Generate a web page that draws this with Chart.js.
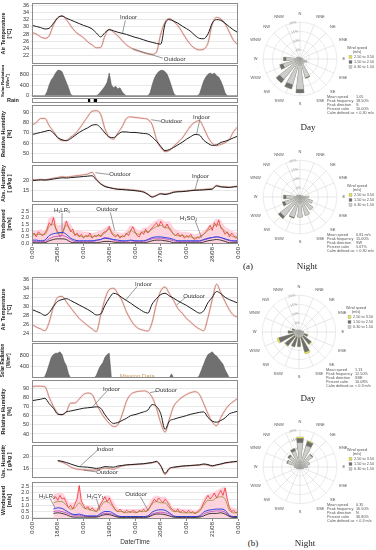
<!DOCTYPE html>
<html>
<head>
<meta charset="utf-8">
<script src="https://cdn.jsdelivr.net/npm/chart.js@4.4.1/dist/chart.umd.min.js"></script>
<style>
  body { margin: 0; width: 376px; height: 550px; background: #fff; position: relative; overflow: hidden; font-family: 'Liberation Sans', Arial, sans-serif; }
  canvas { position: absolute; }
  .lbl { position: absolute; transform: translate(-50%, -50%); white-space: nowrap; }
  .cap { font-family: 'Liberation Serif', 'DejaVu Serif', serif; font-size: 9px; color: #222; }
  .rain { font-size: 5.5px; font-weight: bold; color: #222; }
</style>
</head>
<body>
<canvas id="tempA"  width="244" height="61" style="left:0;top:3px"></canvas>
<canvas id="solarA" width="244" height="32" style="left:0;top:65px"></canvas>
<canvas id="rainA"  width="244" height="5"  style="left:0;top:98px"></canvas>
<canvas id="rhA"    width="244" height="58" style="left:0;top:105px"></canvas>
<canvas id="ahA"    width="244" height="37" style="left:0;top:165px"></canvas>
<canvas id="windA"  width="244" height="58" style="left:0;top:204px"></canvas>

<canvas id="tempB"  width="244" height="65" style="left:0;top:277px"></canvas>
<canvas id="solarB" width="244" height="35" style="left:0;top:343px"></canvas>
<canvas id="rhB"    width="244" height="63" style="left:0;top:380px"></canvas>
<canvas id="ahB"    width="244" height="33" style="left:0;top:445px"></canvas>
<canvas id="windB"  width="244" height="64" style="left:0;top:482px"></canvas>

<canvas id="roseDayA"   width="127" height="120" style="left:249px;top:9px"></canvas>
<canvas id="roseNightA" width="127" height="120" style="left:249px;top:147px"></canvas>
<canvas id="roseDayB"   width="127" height="120" style="left:248px;top:282px"></canvas>
<canvas id="roseNightB" width="127" height="120" style="left:249px;top:417px"></canvas>

<div class="lbl rain" style="left:13px;top:100px">Rain</div>
<div class="lbl cap" style="left:308px;top:127px">Day</div>
<div class="lbl cap" style="left:248px;top:266px">(a)</div>
<div class="lbl cap" style="left:307px;top:266px">Night</div>
<div class="lbl cap" style="left:308px;top:398px">Day</div>
<div class="lbl cap" style="left:253px;top:543px">(b)</div>
<div class="lbl cap" style="left:305px;top:543px">Night</div>

<script>
Chart.defaults.font.family = "'Liberation Sans', Arial, sans-serif";
Chart.defaults.font.size = 6;
Chart.defaults.color = '#333';
Chart.defaults.animation = false;
Chart.defaults.plugins.legend.display = false;
Chart.defaults.plugins.tooltip.enabled = false;

// === TIME GRID (hours from first midnight) ===
const H2 = Array.from({ length: 49 }, (_, i) => i * 2);
const H1 = Array.from({ length: 97 }, (_, i) => i);
const xTicks = [0, 12, 24, 36, 48, 60, 72, 84, 96];
const datesA = ['25/08', '26/08', '27/08', '28/08'];
const datesB = ['18/08', '19/08', '20/08', '21/08'];

// === (a) AIR TEMPERATURE, 2-hourly ===
const tempInA = [30.4, 30.1, 29.8, 29.4, 29.6, 31.0, 32.5, 33.0, 32.4, 31.9,
                 31.4, 30.9, 30.4, 30.0, 29.4, 28.3, 27.2, 28.4, 29.2, 28.9,
                 28.5, 28.2, 27.9, 27.5, 27.1, 26.8, 26.4, 26.0, 25.7, 25.4,
                 25.2, 30.8, 32.0, 31.6, 31.0, 30.2, 29.5, 28.7, 27.6, 26.8,
                 26.7, 28.0, 31.0, 32.0, 31.8, 31.0, 30.0, 29.1, 28.4];
const tempOutA = [28.4, 28.0, 27.2, 26.8, 27.5, 30.5, 32.5, 33.0, 32.0, 30.3,
                  28.8, 27.8, 27.0, 25.8, 25.0, 24.2, 24.3, 27.5, 29.3, 28.5,
                  27.5, 26.2, 25.0, 24.2, 23.6, 23.2, 22.8, 22.5, 22.4, 23.0,
                  28.0, 31.3, 32.3, 31.5, 30.3, 28.5, 26.6, 25.0, 24.0, 23.6,
                  23.8, 25.5, 30.8, 32.6, 32.2, 30.8, 28.5, 26.2, 25.0];

// === (a) SOLAR RADIATION, hourly ===
const solarA = [0, 0, 0, 0, 0, 0, 0, 150, 400, 600,
                700, 850, 950, 950, 900, 700, 500, 300, 50, 0,
                0, 0, 0, 0, 0, 0, 0, 0, 0, 0,
                0, 50, 150, 250, 350, 500, 850, 400, 300, 350,
                250, 300, 150, 50, 0, 0, 0, 0, 0, 0,
                0, 0, 0, 0, 0, 100, 400, 650, 800, 900,
                950, 950, 900, 800, 600, 350, 100, 0, 0, 0,
                0, 0, 0, 0, 0, 0, 0, 0, 50, 300,
                550, 700, 800, 850, 800, 850, 750, 700, 550, 350,
                100, 0, 0, 0, 0, 0, 0];

// === (a) RAIN EVENTS ===
const rainHoursA = [26.6, 29.3, 29.8];
const rainA = [1, 1, 1];

// === (a) RELATIVE HUMIDITY, 2-hourly ===
const rhOutA = [77.7, 80, 84, 84, 77, 71.5, 65.4, 62.5, 62.8, 66,
                69, 74, 80, 86, 91, 91.5, 88, 74, 66, 64,
                70, 76, 84, 85.5, 85, 84.5, 84, 83, 78, 64,
                56, 52, 53, 57, 61, 65, 71, 77, 80.5, 82,
                75, 66, 60, 57.7, 59, 60.5, 64, 71.5, 76];
const rhInA = [68.5, 69.5, 70.5, 71.5, 72.5, 70, 65.5, 63.5, 62.5, 64.5,
               67.5, 70.5, 73, 75, 77.5, 78, 75, 70, 66, 65.5,
               68.5, 71, 71, 70.5, 70.5, 70, 69.5, 69, 66, 62,
               57, 53, 54, 56, 58.5, 61, 64, 66.5, 68.5, 68,
               63, 60, 58, 58.5, 60.8, 62, 63.5, 65.4, 67];

// === (a) ABSOLUTE HUMIDITY, 2-hourly ===
const ahOutA = [20.5, 20.6, 20.8, 20.6, 21.0, 21.4, 21.8, 22.2, 22.0, 22.3,
                22.6, 22.9, 23.2, 23.6, 24.5, 21.0, 18.6, 17.2, 16.5, 16.0,
                15.7, 15.6, 15.5, 15.3, 15.1, 14.8, 14.3, 13.0, 11.6, 12.4,
                13.3, 13.0, 13.4, 14.2, 14.4, 14.5, 14.7, 15.0, 15.2, 15.3,
                15.5, 15.7, 16.0, 17.6, 17.0, 16.9, 16.7, 17.0, 17.2];
const ahInA = [20.2, 20.3, 20.5, 20.4, 20.6, 21.0, 21.3, 21.6, 21.5, 21.7,
               21.9, 22.1, 22.3, 22.5, 22.7, 20.5, 18.4, 17.0, 16.4, 15.9,
               15.5, 15.4, 15.2, 15.0, 14.8, 14.5, 14.0, 12.8, 11.4, 12.2,
               13.1, 12.8, 13.2, 13.9, 14.2, 14.3, 14.5, 14.8, 15.0, 15.1,
               15.2, 15.4, 15.6, 17.3, 16.8, 16.6, 16.5, 16.8, 17.0];

// === (a) WINDSPEED ===
const windOutA = [0.6, 0.8, 0.5, 0.9, 0.7, 0.6, 0.8, 1.1, 1.6, 1.4,
                  2.0, 1.2, 0.9, 0.5, 0.7, 1.2, 1.7, 1.3, 0.9, 1.1,
                  0.6, 0.8, 0.5, 0.7, 0.4, 0.6, 0.5, 0.8, 0.4, 0.6,
                  0.5, 0.7, 0.5, 0.8, 0.9, 1.0, 1.3, 0.8, 0.6, 0.5,
                  0.7, 0.4, 0.6, 0.5, 0.8, 0.6, 1.0, 1.3, 0.9, 0.6,
                  0.5, 0.9, 0.7, 1.1, 0.8, 1.0, 1.2, 1.4, 1.6, 1.3,
                  1.7, 1.4, 1.2, 1.5, 1.1, 0.9, 0.7, 0.6, 0.8, 0.5,
                  0.7, 0.4, 0.6, 0.5, 0.7, 0.4, 0.3, 0.5, 0.4, 0.6,
                  0.7, 0.9, 1.1, 1.4, 1.0, 1.6, 1.3, 1.8, 1.2, 1.0,
                  0.7, 0.9, 0.5, 0.8, 0.6, 0.4, 0.5];
const windPeakA = [1.0, 1.0, 1.1, 1.0, 2.0, 2.1, 1.4, 1.5, 1.8, 1.5,
                   1.0, 1.0, 0.9, 0.9, 0.8, 0.9, 1.0, 1.2, 1.4, 1.0,
                   0.9, 0.8, 1.0, 1.4, 1.2, 1.0, 1.2, 1.3, 1.6, 1.8,
                   1.9, 1.7, 1.7, 1.2, 1.0, 0.9, 0.9, 0.8, 0.7, 0.8,
                   1.0, 1.3, 1.6, 1.9, 1.8, 1.3, 1.1, 0.9, 0.8];
const windOliveA = [0.6, 0.7, 0.7, 0.7, 1.3, 1.5, 0.8, 0.8, 1.4, 1.0,
                    0.7, 0.6, 0.5, 0.6, 0.5, 0.6, 0.6, 0.8, 1.1, 0.7,
                    0.6, 0.5, 0.7, 1.0, 0.8, 0.7, 0.9, 0.9, 1.1, 1.3,
                    1.4, 1.2, 1.2, 0.7, 0.6, 0.6, 0.5, 0.5, 0.4, 0.5,
                    0.7, 1.0, 1.2, 1.5, 1.3, 0.9, 0.7, 0.5, 0.5];
const windBlueA = [0.25, 0.25, 0.2, 0.25, 0.6, 0.75, 0.8, 0.85, 0.7, 0.4,
                   0.25, 0.2, 0.2, 0.2, 0.2, 0.25, 0.3, 0.4, 0.35, 0.3,
                   0.25, 0.2, 0.2, 0.25, 0.2, 0.2, 0.2, 0.3, 0.45, 0.5,
                   0.5, 0.45, 0.4, 0.3, 0.2, 0.2, 0.2, 0.2, 0.2, 0.2,
                   0.3, 0.4, 0.45, 0.5, 0.45, 0.35, 0.25, 0.2, 0.2];
const windPurpleA = [0.15, 0.15, 0.15, 0.15, 0.35, 0.5, 0.55, 0.6, 0.5, 0.3,
                     0.15, 0.15, 0.15, 0.15, 0.15, 0.2, 0.3, 0.45, 0.4, 0.25,
                     0.15, 0.15, 0.15, 0.2, 0.15, 0.15, 0.15, 0.25, 0.35, 0.4,
                     0.4, 0.35, 0.3, 0.2, 0.15, 0.15, 0.15, 0.15, 0.15, 0.15,
                     0.25, 0.35, 0.45, 0.5, 0.45, 0.3, 0.2, 0.15, 0.15];
const windBlackA = [0.05, 0.05, 0.05, 0.05, 0.2, 0.3, 0.35, 0.35, 0.3, 0.1,
                    0.05, 0.05, 0.05, 0.05, 0.05, 0.05, 0.1, 0.15, 0.15, 0.1,
                    0.05, 0.05, 0.05, 0.05, 0.05, 0.05, 0.05, 0.1, 0.2, 0.25,
                    0.25, 0.2, 0.15, 0.05, 0.05, 0.05, 0.05, 0.05, 0.05, 0.05,
                    0.1, 0.2, 0.25, 0.3, 0.25, 0.15, 0.05, 0.05, 0.05];

// === (b) AIR TEMPERATURE, 2-hourly ===
const tempInB = [29.3, 28.9, 28.5, 28.0, 28.6, 30.0, 31.1, 31.5, 31.7, 31.3,
                 30.8, 30.3, 29.8, 29.3, 28.7, 28.1, 28.3, 30.2, 31.8, 32.9,
                 32.6, 31.9, 31.3, 30.7, 30.0, 29.4, 28.8, 28.5, 30.5, 31.7,
                 32.6, 32.9, 32.3, 31.8, 31.2, 30.7, 30.2, 29.6, 29.0, 28.5,
                 29.0, 30.8, 32.0, 33.3, 32.8, 32.0, 31.5, 31.1, 30.7];
const tempOutB = [26.0, 25.4, 25.0, 24.6, 26.5, 29.9, 32.0, 32.2, 31.0, 29.7,
                  28.5, 27.3, 26.5, 25.7, 25.0, 24.4, 28.0, 31.6, 33.7, 34.0,
                  32.8, 31.2, 28.8, 27.0, 25.7, 25.0, 24.7, 24.5, 26.5, 30.6,
                  33.4, 34.3, 32.8, 31.3, 29.5, 28.5, 27.3, 26.5, 25.6, 25.0,
                  24.6, 27.5, 31.5, 34.9, 33.0, 31.0, 29.2, 28.0, 27.6];

// === (b) SOLAR RADIATION, hourly (gap = missing data) ===
const solarB = [0, 0, 0, 0, 0, 0, 50, 250, 500, 750,
                850, 900, 900, 950, 850, 600, 450, 150, 0, 0,
                0, 0, 0, 0, 0, 0, 0, 0, 0, 0,
                100, 300, 450, 550, 750, 850, 900, 0, 0, 0,
                0, 0, 0, 0, 0, 0, 0, 0, 0, 0,
                0, 0, 0, 0, 0, 0, 0, 0, 0, 0,
                0, 0, 0, 0, 0, 150, 0, 0, 0, 0,
                0, 0, 0, 0, 0, 0, 0, 0, 100, 300,
                500, 700, 850, 900, 950, 850, 800, 700, 600, 500,
                300, 150, 0, 0, 0, 0, 0];

// === (b) RELATIVE HUMIDITY, 2-hourly ===
const rhOutB = [91.5, 92, 92, 91.5, 80, 70, 62.5, 61, 64, 73.6,
                73.6, 78, 83, 84.5, 83, 73, 64, 57, 51.5, 48,
                50, 61, 75.5, 83, 85.5, 86.5, 86.8, 85.5, 80, 68,
                52, 42, 56, 70, 76, 80, 83, 85, 86, 83,
                73, 62, 53, 49, 58, 66, 72, 75.5, 79];
const rhInB = [76.2, 77, 77.8, 78.8, 73, 68, 61.5, 61, 64, 65,
               66, 67, 68, 68.5, 69, 69.5, 68, 61, 55, 51.5,
               52.5, 54.7, 57, 60, 61, 62.5, 64, 66, 72, 70,
               62, 45, 54, 56, 57.5, 58.7, 60, 61.5, 62.5, 63.5,
               64, 58, 54, 52.8, 54.7, 57.5, 62, 63.5, 65];

// === (b) ABSOLUTE HUMIDITY, 2-hourly (no data before noon) ===
const ahInB = [null, null, null, null, null, null, 18.8, 18.5, 18.1, 17.6,
               17.1, 16.7, 16.6, 16.5, 16.3, 16.1, 16.3, 16.7, 16.6, 16.5,
               16.9, 17.1, 17.3, 17.4, 17.5, 17.6, 17.7, 17.9, 18.1, 18.5,
               17.0, 14.4, 16.1, 16.5, 16.7, 16.9, 17.0, 17.1, 17.2, 17.3,
               17.6, 17.4, 17.0, 17.3, 17.6, 18.0, 18.2, 18.4, 18.5];
const ahOutB = [null, null, null, null, null, null, 18.6, 18.2, 17.5, 16.6,
                16.0, 15.7, 15.6, 15.5, 15.5, 15.6, 15.8, 16.2, 16.0, 15.8,
                16.4, 16.9, 17.2, 17.3, 17.4, 17.5, 17.6, 17.8, 18.0, 18.3,
                16.8, 14.0, 15.9, 16.4, 16.6, 16.8, 16.9, 17.0, 17.1, 17.2,
                17.4, 17.2, 16.8, 17.2, 17.5, 17.9, 18.1, 18.3, 18.5];

// === (b) WINDSPEED ===
const windOutB = [null, null, null, null, null, null, null, null, null, null,
                  1.5, 1.7, 1.4, 1.8, 1.5, 1.6, 1.2, 0.8, 1.0, 0.7,
                  1.1, 1.5, 2.6, 1.3, 1.0, 0.7, 0.9, 0.6, 0.8, 0.6,
                  0.5, 0.8, 1.1, 1.4, 1.7, 1.3, 1.6, 1.2, 0.9, 0.6,
                  0.5, 0.7, 0.5, 0.4, 0.6, 0.5, 0.4, 0.6, 0.5, 0.4,
                  0.6, 0.5, 0.7, 0.5, 0.6, 0.9, 1.2, 1.5, 1.3, 1.6,
                  1.4, 1.2, 1.5, 1.3, 1.0, 0.7, 0.6, 0.5, 0.7, 0.4,
                  0.6, 0.5, 0.4, 0.6, 0.4, 0.5, 0.3, 0.5, 0.6, 0.8,
                  1.2, 1.5, 1.8, 1.5, 1.7, 2.0, 1.6, 1.9, 2.2, 1.8,
                  2.4, 1.5, 0.8, 0.5, 0.6, 0.4, 0.5];
const windPeakB = [null, null, null, null, null, 1.9, 2.0, 2.0, 1.6, 1.2,
                   1.3, 2.6, 1.2, 1.0, 0.9, 0.8, 1.3, 1.8, 1.8, 1.3,
                   0.8, 0.7, 0.7, 0.7, 0.7, 0.7, 0.8, 1.0, 1.6, 1.8,
                   1.7, 1.7, 1.3, 0.8, 0.8, 0.7, 0.7, 0.7, 0.6, 0.8,
                   1.6, 1.9, 2.0, 2.2, 2.4, 2.5, 1.0, 0.8, 0.7];
const windOliveB = [null, null, null, null, null, 1.2, 1.3, 1.3, 1.0, 0.7,
                    0.8, 1.2, 0.8, 0.7, 0.6, 0.5, 0.9, 1.3, 1.2, 0.8,
                    0.5, 0.5, 0.4, 0.5, 0.4, 0.5, 0.5, 0.6, 1.1, 1.3,
                    1.2, 1.2, 0.8, 0.5, 0.5, 0.4, 0.4, 0.4, 0.4, 0.5,
                    1.0, 1.4, 1.4, 1.6, 1.7, 1.5, 0.6, 0.4, 0.4];
const windBlueB = [null, null, null, null, null, 0.7, 0.8, 0.75, 0.55, 0.35,
                  0.25, 0.3, 0.2, 0.15, 0.15, 0.15, 0.35, 0.5, 0.5, 0.35,
                  0.15, 0.1, 0.1, 0.1, 0.1, 0.1, 0.1, 0.15, 0.45, 0.6,
                  0.65, 0.6, 0.4, 0.15, 0.1, 0.1, 0.1, 0.1, 0.1, 0.15,
                  0.45, 0.6, 0.65, 0.7, 0.7, 0.6, 0.2, 0.1, 0.1];
const windPurpleB = [null, null, null, null, null, 0.5, 0.55, 0.5, 0.4, 0.25,
                     0.2, 0.2, 0.15, 0.1, 0.1, 0.1, 0.25, 0.35, 0.35, 0.25,
                     0.1, 0.08, 0.08, 0.08, 0.08, 0.08, 0.08, 0.1, 0.3, 0.4,
                     0.45, 0.4, 0.3, 0.1, 0.08, 0.08, 0.08, 0.08, 0.08, 0.1,
                     0.3, 0.45, 0.5, 0.55, 0.55, 0.45, 0.15, 0.08, 0.08];
const windBlackB = [null, null, null, null, null, 0.35, 0.4, 0.35, 0.25, 0.1,
                    0.05, 0.05, 0.05, 0.05, 0.05, 0.05, 0.15, 0.25, 0.25, 0.15,
                    0.05, 0.03, 0.03, 0.03, 0.03, 0.03, 0.03, 0.05, 0.2, 0.3,
                    0.3, 0.25, 0.15, 0.05, 0.03, 0.03, 0.03, 0.03, 0.03, 0.05,
                    0.15, 0.3, 0.35, 0.35, 0.4, 0.3, 0.1, 0.03, 0.03];

// === WIND ROSES: frequency (%) per direction and speed band ===
const DIRS = ['N', 'NNE', 'NE', 'ENE', 'E', 'ESE', 'SE', 'SSE', 'S', 'SSW', 'SW', 'WSW', 'W', 'WNW', 'NW', 'NNW'];
const bandLabels = ['2.50 to 3.50', '1.50 to 2.50', '0.30 to 1.50'];

const dayA_low  = [0.8, 0.6, 0.6, 1, 1.5, 4, 3, 10.5, 16.5, 14.5, 14, 9.5, 7.5, 2, 1.5, 1];
const dayA_mid  = [0, 0, 0, 0, 0, 0, 0, 0.5, 2, 2.5, 2.5, 2, 1.5, 0, 0, 0];
const dayA_high = [0, 0, 0, 0, 0, 0, 0, 0, 0, 0, 0, 0, 0, 0, 0, 0];

const nightA_low  = [1, 0.8, 0.8, 1.5, 4.5, 7, 9, 10.5, 11, 11.5, 13.5, 8.5, 7.5, 2, 1.5, 1];
const nightA_mid  = [0, 0, 0, 0, 0, 0, 0, 0, 0, 0.5, 1.5, 1.5, 1.5, 0, 0, 0];
const nightA_high = [0, 0, 0, 0, 0, 0, 0, 0, 0, 0, 0, 0, 0, 0, 0, 0];

const dayB_low  = [1, 1, 1, 1.5, 2, 3, 3, 3, 3, 3, 3, 3, 3, 2.5, 1.5, 1];
const dayB_mid  = [0, 0, 0, 0, 0.5, 2, 5.5, 8.5, 5, 5.5, 6.7, 8.5, 3, 1.5, 0, 0];
const dayB_high = [0, 0, 0, 0, 0, 0, 0.5, 1, 0, 0, 0.3, 1, 0, 0, 0, 0];

const nightB_low  = [13.2, 12, 8.5, 5.5, 4, 2, 1.5, 1, 1, 1, 1.5, 2, 3, 7, 7.5, 9];
const nightB_mid  = [2.5, 2.5, 0.5, 0, 0, 0, 0, 0, 0, 0, 0, 0, 0, 0.5, 1, 1.5];
const nightB_high = [0.8, 0.5, 0, 0, 0, 0, 0, 0, 0, 0, 0, 0, 0, 0, 0, 0];

const statsDayA = [['Mean speed', '1.05'], ['Peak frequency', '18.50%'], ['Peak direction', 'S'], ['Percent calm', '10.00%'], ['Calm defined as', '< 0.30 m/s']];
const statsNightA = [['Mean speed', '0.81 m/s'], ['Peak frequency', '15.00%'], ['Peak direction', 'SW'], ['Percent calm', '5.67%'], ['Calm defined as', '< 0.30 m/s']];
const statsDayB = [['Mean speed', '1.13'], ['Peak frequency', '12.50%'], ['Peak direction', 'SSE'], ['Percent calm', '10.08%'], ['Calm defined as', '< 0.3 m/s']];
const statsNightB = [['Mean speed', '0.35'], ['Peak frequency', '16.50%'], ['Peak direction', 'N'], ['Percent calm', '36.80%'], ['Calm defined as', '< 0.3 m/s']];

// === COLOURS ===
const C_IN = '#1c1c1c';
const C_OUT = '#b9735a';
const C_HALO = 'rgba(245,120,140,0.2)';
const bandColors = ['#e2e24a', '#6e6e6e', '#cdcdcd'];

// === PLUGINS ===
const frame = {
    id: 'frame',
    afterDraw(chart) {
        const { ctx, chartArea: a } = chart;
        ctx.save();
        ctx.strokeStyle = '#8c8c8c';
        ctx.lineWidth = 1;
        ctx.strokeRect(a.left + 0.5, a.top + 0.5, a.right - a.left - 1, a.bottom - a.top - 1);
        ctx.restore();
    }
};

// text labels with pointer lines, positioned in data units
function makeNotes(list) {
    return {
        id: 'notes',
        afterDatasetsDraw(chart) {
            const { ctx, scales: { x, y } } = chart;
            ctx.save();
            list.forEach(n => {
                if (n.line) {
                    ctx.strokeStyle = '#555';
                    ctx.lineWidth = 0.6;
                    ctx.beginPath();
                    ctx.moveTo(x.getPixelForValue(n.line[0]), y.getPixelForValue(n.line[1]));
                    ctx.lineTo(x.getPixelForValue(n.line[2]), y.getPixelForValue(n.line[3]));
                    ctx.stroke();
                }
                ctx.fillStyle = n.color || '#333';
                ctx.font = "6px 'Liberation Sans', 'DejaVu Sans', Arial, sans-serif";
                ctx.textAlign = 'center';
                ctx.textBaseline = 'middle';
                ctx.fillText(n.text, x.getPixelForValue(n.x), y.getPixelForValue(n.y));
            });
            ctx.restore();
        }
    };
}

// === AXES ===
function xAxis(dates, title) {
    if (!dates) return { type: 'linear', min: 0, max: 96, display: false };
    return {
        type: 'linear', min: 0, max: 96,
        afterBuildTicks: s => { s.ticks = xTicks.map(v => ({ value: v })); },
        afterFit: s => { s.height = title ? 27 : 18; s.paddingLeft = 0; s.paddingRight = 0; },
        ticks: {
            font: { size: 6 }, color: '#333', padding: 1, minRotation: 90, maxRotation: 90, autoSkip: false,
            callback: v => v % 24 === 0 ? '0:00' : dates[(v - 12) / 24]
        },
        grid: { drawOnChartArea: false, tickLength: 2, color: '#888' },
        border: { display: false },
        title: { display: !!title, text: title || '', font: { size: 6.5 }, color: '#333', padding: { top: 1, bottom: 0 } }
    };
}

function yAxis(y) {
    return {
        min: y.min, max: y.max,
        afterBuildTicks: s => { s.ticks = y.ticks.map(v => ({ value: v })); },
        afterFit: s => { s.width = 32; s.paddingTop = 0; s.paddingBottom = 0; },
        ticks: { font: { size: 5.5 }, color: '#333', padding: 1, autoSkip: false, callback: v => y.dec ? v.toFixed(y.dec) : v },
        grid: { color: '#d0d0d0', lineWidth: 0.5, tickLength: 2 },
        border: { display: false },
        title: { display: true, text: y.title, font: { size: y.titleSize || 5.5, weight: 'bold' }, color: '#222', padding: { top: 0, bottom: 1 } }
    };
}

const series = (hours, vals, color, width, extra) => Object.assign({
    data: hours.map((h, i) => ({ x: h, y: vals[i] })),
    borderColor: color, borderWidth: width, pointRadius: 0, fill: false
}, extra || {});

function panel(id, datasets, y, x, notes) {
    return new Chart(document.getElementById(id), {
        type: 'line',
        data: { datasets },
        options: {
            responsive: false,
            layout: { padding: { left: 0, right: 6, top: 0, bottom: 0 } },
            elements: { point: { radius: 0 }, line: { cubicInterpolationMode: 'monotone' } },
            scales: { x: x, y: yAxis(y) }
        },
        plugins: [frame, makeNotes(notes || [])]
    });
}

function tempSet(inV, outV) {
    return [series(H2, inV, C_IN, 1), series(H2, outV, C_OUT, 0.8), series(H2, outV, C_HALO, 2.2)];
}

function windSet(out, peak, olive, blue, purple, black) {
    return [
        series(H2, black, '#111', 0.8),
        series(H2, blue, '#2844e0', 1),
        series(H2, purple, '#b040c0', 0.8),
        series(H2, olive, '#8a8a20', 0.7),
        series(H1, out, '#e8201c', 0.7, { cubicInterpolationMode: 'default', tension: 0 }),
        series(H2, peak, 'rgba(0,0,0,0)', 0, { fill: 'origin', backgroundColor: '#ffd3de' })
    ];
}

function solarSet(vals) {
    return [series(H1, vals, '#505050', 0.5, { fill: 'origin', backgroundColor: '#707070', cubicInterpolationMode: 'default', tension: 0 })];
}

// === PANEL (a) ===
panel('tempA', tempSet(tempInA, tempOutA),
    { min: 19.7, max: 36.6, ticks: [22, 24, 26, 28, 30, 32, 34, 36], title: ['Air Temperature', '[°C]'] },
    xAxis(null),
    [{ text: 'Indoor', x: 45, y: 32.5, line: [43.5, 31.8, 42.2, 28.3] },
     { text: 'Outdoor', x: 66.5, y: 21.1, line: [61, 21.3, 47, 23.9] }]);

panel('solarA', solarSet(solarA),
    { min: -50, max: 1150, ticks: [0, 400, 800], title: ['Solar Radiation', '[W/m²]'], titleSize: 4.4 },
    xAxis(null));

new Chart(document.getElementById('rainA'), {
    type: 'bar',
    data: { datasets: [{ data: rainHoursA.map((h, i) => ({ x: h, y: rainA[i] })), backgroundColor: '#000', barThickness: 1.6 }] },
    options: {
        responsive: false,
        layout: { padding: { left: 32, right: 6 } },
        scales: { x: { type: 'linear', min: 0, max: 96, display: false, offset: false }, y: { min: 0, max: 1, display: false } }
    },
    plugins: [frame]
});

panel('rhA', tempSet(rhInA, rhOutA),
    { min: 41, max: 97, ticks: [50, 60, 70, 80, 90], title: ['Relative Humidity', '[%]'] },
    xAxis(null),
    [{ text: 'Outdoor', x: 65, y: 81, line: [60.2, 81.3, 55.5, 82.8] },
     { text: 'Indoor', x: 79, y: 85.5, line: [78.3, 83.8, 76.7, 68.8] }]);

panel('ahA', tempSet(ahInA, ahOutA),
    { min: 8.8, max: 28.4, ticks: [15, 20], title: ['Abs. Humidity', '[ g/kg ]'] },
    xAxis(null),
    [{ text: 'Outdoor', x: 41, y: 23.2, line: [36.2, 23.4, 29.5, 24.3] },
     { text: 'Indoor', x: 78.5, y: 22.6, line: [77.5, 21.7, 76, 15.3] }]);

panel('windA', windSet(windOutA, windPeakA, windOliveA, windBlueA, windPurpleA, windBlackA),
    { min: -0.05, max: 3.05, ticks: [0, 0.5, 1, 1.5, 2, 2.5], dec: 1, title: ['Windspeed', '[m/s]'] },
    xAxis(datesA),
    [{ text: 'H₁LR₁', x: 14, y: 2.55, line: [14, 2.35, 14, 0.85] },
     { text: 'Outdoor', x: 35, y: 2.6, line: [36.5, 2.4, 38.5, 1.0] },
     { text: 'H₁SO₁', x: 73, y: 1.95, line: [76, 1.78, 79, 0.45] }]);

// === PANEL (b) ===
panel('tempB', tempSet(tempInB, tempOutB),
    { min: 22.1, max: 36.5, ticks: [24, 26, 28, 30, 32, 34, 36], title: ['Air Temperature', '[°C]'] },
    xAxis(null),
    [{ text: 'Indoor', x: 52, y: 34.9, line: [49, 34.4, 43.5, 31.3] },
     { text: 'Outdoor', x: 75.5, y: 32.2, line: [71.3, 31.9, 67.4, 30.3] }]);

panel('solarB', solarSet(solarB),
    { min: 0, max: 1270, ticks: [400, 800], title: ['Solar Radiation', '[W/m²]'], titleSize: 4.6 },
    xAxis(null),
    [{ text: 'Missing Data', x: 49, y: 60, color: '#c89a5a' }]);

panel('rhB', tempSet(rhInB, rhOutB),
    { min: 30.2, max: 98.7, ticks: [40, 50, 60, 70, 80, 90], title: ['Relative Humidity', '[%]'] },
    xAxis(null),
    [{ text: 'Indoor', x: 37, y: 88.7, line: [35, 86.8, 28, 69] },
     { text: 'Outdoor', x: 62.5, y: 87.5, line: [58.3, 86.5, 55, 85] }]);

panel('ahB', tempSet(ahInB, ahOutB),
    { min: 12.8, max: 24.1, ticks: [16, 20], title: ['Abs. Humidity', '[ g/kg ]'] },
    xAxis(null),
    [{ text: 'Indoor', x: 34, y: 22.7, line: [30.5, 22.3, 22.5, 16.9] },
     { text: 'Outdoor', x: 35, y: 14.6, line: [30, 14.9, 24, 15.5] }]);

panel('windB', windSet(windOutB, windPeakB, windOliveB, windBlueB, windPurpleB, windBlackB),
    { min: -0.1, max: 2.88, ticks: [0, 0.5, 1, 1.5, 2, 2.5], dec: 1, title: ['Windspeed', '[m/s]'] },
    xAxis(datesB, 'Date/Time'),
    [{ text: 'H₁LR₁', x: 7, y: 1.75, line: [8.5, 1.55, 10.7, 0.8] },
     { text: 'H₁CY₁', x: 29.5, y: 1.75, line: [30, 1.55, 31.7, 0.6] },
     { text: 'Outdoor', x: 48.5, y: 1.9, line: [50.5, 1.7, 54.2, 0.55] }]);

// === WIND ROSES ===
function roseDeco(stats, legendY) {
    return {
        id: 'roseDeco',
        beforeDatasetsDraw(chart) {
            // spokes through the petal centres
            const r = chart.scales.r, ctx = chart.ctx;
            ctx.save();
            ctx.strokeStyle = '#cfcfcf';
            ctx.lineWidth = 0.5;
            for (let i = 0; i < 16; i++) {
                const a = i * Math.PI / 8;
                ctx.beginPath();
                ctx.moveTo(r.xCenter, r.yCenter);
                ctx.lineTo(r.xCenter + Math.sin(a) * r.drawingArea, r.yCenter - Math.cos(a) * r.drawingArea);
                ctx.stroke();
            }
            ctx.restore();
        },
        afterDraw(chart) {
            const r = chart.scales.r, ctx = chart.ctx;
            const cx = r.xCenter, cy = r.yCenter;
            ctx.save();
            ctx.font = "3.8px 'Liberation Sans', Arial, sans-serif";
            ctx.textBaseline = 'middle';
            ctx.fillStyle = '#555';
            ctx.textAlign = 'center';
            ctx.fillText('Wind speed', cx + 57, cy + legendY);
            ctx.fillText('(m/s)', cx + 57, cy + legendY + 4);
            ctx.textAlign = 'left';
            bandLabels.forEach((t, i) => {
                const yy = cy + legendY + 9 + i * 5;
                ctx.fillStyle = bandColors[i];
                ctx.fillRect(cx + 49, yy - 1.5, 3, 3);
                ctx.strokeStyle = '#888';
                ctx.lineWidth = 0.3;
                ctx.strokeRect(cx + 49, yy - 1.5, 3, 3);
                ctx.fillStyle = '#555';
                ctx.fillText(t, cx + 54, yy);
            });
            stats.forEach((s, i) => {
                const yy = cy + 38 + i * 4;
                ctx.fillText(s[0], cx + 27, yy);
                ctx.fillText(s[1], cx + 56, yy);
            });
            ctx.restore();
        }
    };
}

// each direction becomes [gap, petal, gap] so petals are narrower than their sector
const PETAL = 14, HALF_GAP = (22.5 - PETAL) / 2;
const spread = arr => arr.flatMap(v => [0, v, 0]);

function rose(id, low, mid, high, stats, legendY) {
    const c2 = low.map((v, i) => v + mid[i]);
    const c3 = c2.map((v, i) => v + high[i]);
    const ds = (data, color) => ({
        data: spread(data), backgroundColor: color, borderColor: 'rgba(150,150,150,0.8)', borderWidth: 0.3,
        angle: c => c.dataIndex % 3 === 1 ? PETAL : HALF_GAP
    });
    return new Chart(document.getElementById(id), {
        type: 'polarArea',
        data: { labels: DIRS, datasets: [ds(low, bandColors[2]), ds(c2, bandColors[1]), ds(c3, bandColors[0])] },
        options: {
            responsive: false,
            layout: { padding: { right: 27, bottom: 20 } },
            scales: {
                r: {
                    min: 0, max: 20, startAngle: -11.25,
                    ticks: { stepSize: 5, font: { size: 3.5 }, color: '#999', showLabelBackdrop: false, callback: v => v ? v + '%' : '' },
                    grid: { color: '#d6d6d6', lineWidth: 0.5 },
                    angleLines: { display: false },
                    pointLabels: { display: true, centerPointLabels: true, font: { size: 4 }, color: '#555', padding: 2 }
                }
            }
        },
        plugins: [roseDeco(stats, legendY)]
    });
}

rose('roseDayA', dayA_low, dayA_mid, dayA_high, statsDayA, -11);
rose('roseNightA', nightA_low, nightA_mid, nightA_high, statsNightA, -11);
rose('roseDayB', dayB_low, dayB_mid, dayB_high, statsDayB, -24);
rose('roseNightB', nightB_low, nightB_mid, nightB_high, statsNightB, -17);
</script>
</body>
</html>
